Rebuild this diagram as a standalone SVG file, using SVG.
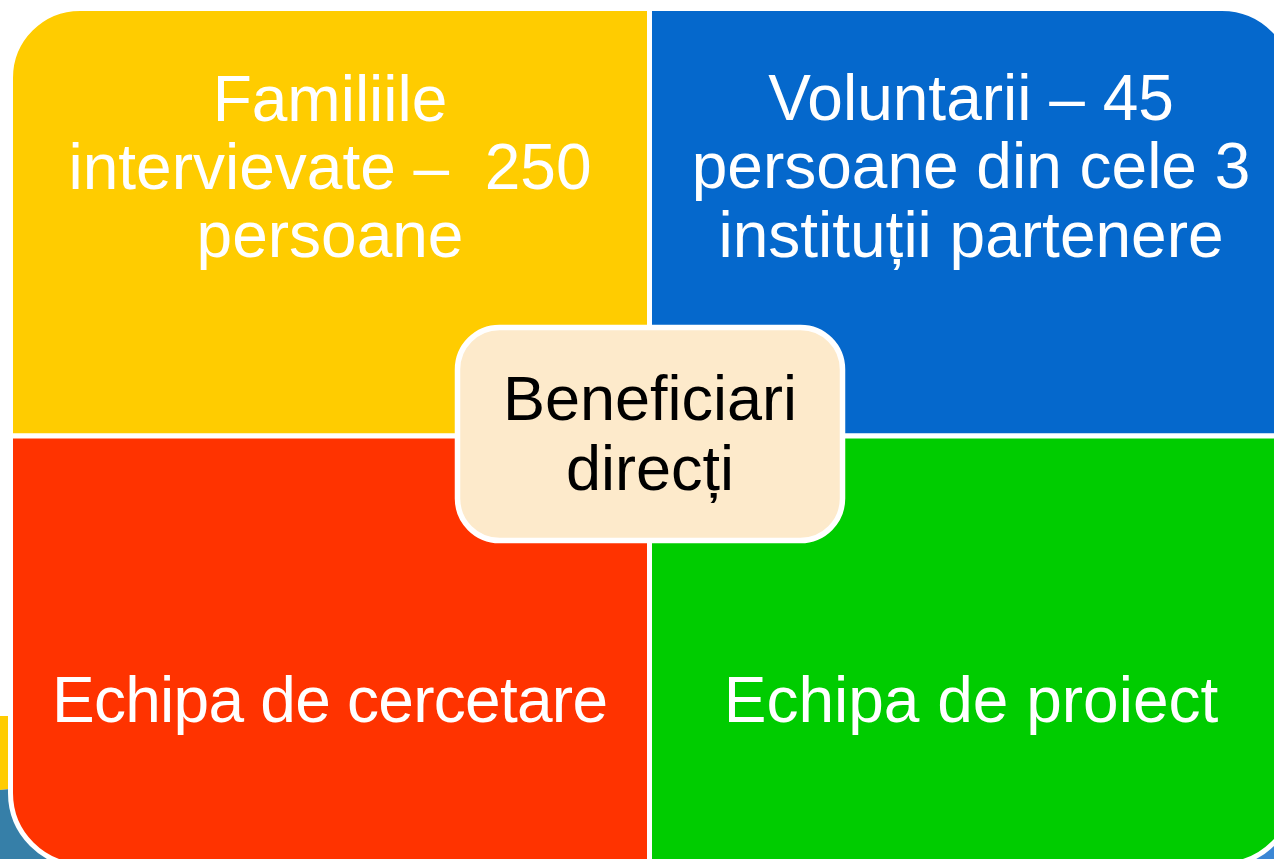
<svg xmlns="http://www.w3.org/2000/svg" width="1274" height="859" viewBox="0 0 1274 859">
  <style>
    .q { stroke: #ffffff; stroke-width: 5; }
    .t { font-family: "Liberation Sans", Arial, sans-serif; font-size: 64px; fill: #ffffff; text-anchor: middle; white-space: pre; }
    .c { font-family: "Liberation Sans", Arial, sans-serif; font-size: 63px; fill: #000000; text-anchor: middle; }
  </style>
  <rect x="0" y="0" width="1274" height="859" fill="#ffffff"/>
  <g id="background">
    <polygon points="0,716 60,716 60,784 0,790" fill="#ffcc00"/>
    <polygon points="0,790 60,784 120,784 120,859 0,859" fill="#367fa8"/>
    <rect x="1190" y="790" width="84" height="69" fill="#3b87d4"/>
  </g>
  <g id="node-familii">
    <path class="q" fill="#ffcc00" d="M10.5,436 L10.5,78 A69.5,69.5 0 0 1 80,8.5 L649.5,8.5 L649.5,436 Z"/>
    <text class="t" x="330" y="121">Familiile</text>
    <text class="t" x="330" y="189">intervievate –  250</text>
    <text class="t" x="330" y="257">persoane</text>
  </g>
  <g id="node-voluntari">
    <path class="q" fill="#0568cc" d="M649.5,8.5 L1222,8.5 A72.5,72.5 0 0 1 1294.5,81 L1294.5,436 L649.5,436 Z"/>
    <text class="t" x="971" y="120">Voluntarii – 45</text>
    <text class="t" x="971" y="188">persoane din cele 3</text>
    <text class="t" x="971" y="257">instituții partenere</text>
  </g>
  <g id="node-cercetare">
    <path class="q" fill="#ff3300" d="M10.5,436 L649.5,436 L649.5,865.5 L83,865.5 A72.5,72.5 0 0 1 10.5,793 Z"/>
    <text class="t" x="330" y="722" textLength="556">Echipa de cercetare</text>
  </g>
  <g id="node-proiect">
    <path class="q" fill="#00cc00" d="M649.5,436 L1294.5,436 L1294.5,792 A72.5,72.5 0 0 1 1222,864.5 L649.5,864.5 Z"/>
    <text class="t" x="971" y="722">Echipa de proiect</text>
  </g>
  <g id="connectors"></g>
  <g id="node-beneficiari">
    <rect x="457.5" y="327.5" width="385" height="213" rx="42" ry="42" fill="#fdeacb" stroke="#ffffff" stroke-width="5.5"/>
    <text class="c" x="650" y="420">Beneficiari</text>
    <text class="c" x="650" y="490">direcți</text>
  </g>
</svg>
